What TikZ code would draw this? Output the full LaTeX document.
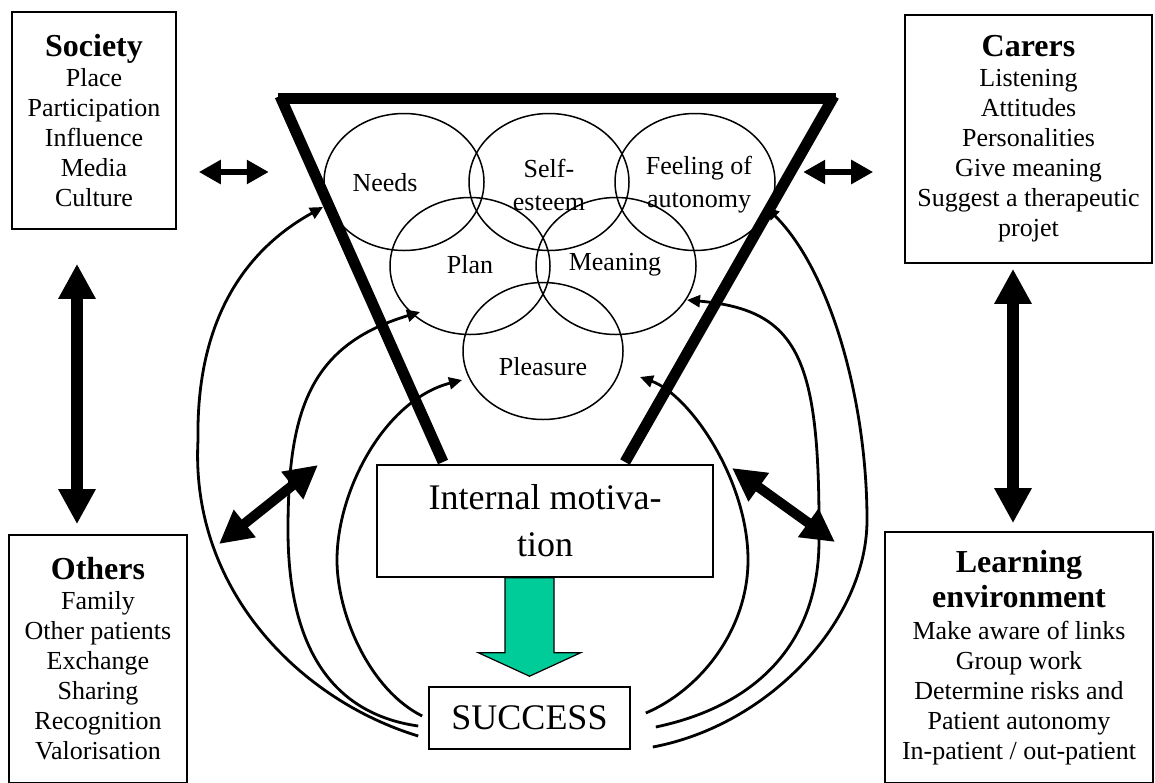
\documentclass[tikz,border=0pt]{standalone}
\usepackage{fontspec}
\setmainfont{Liberation Serif}
\usetikzlibrary{shapes.geometric,arrows.meta,calc}
\definecolor{arrowgreen}{RGB}{0,204,153}
\newcommand\bodysize{\fontsize{26}{30}\selectfont}
\newcommand\headsize{\fontsize{32}{30}\selectfont\bfseries}
\newcommand\bigsize{\fontsize{36}{47}\selectfont}

\begin{document}
\begin{tikzpicture}[x=1pt,y=-1pt,
  infobox/.style={draw, line width=1.6pt, inner sep=0pt, align=center, font=\bodysize},
  ring/.style={draw, ellipse, line width=1.5pt, minimum width=160pt, minimum height=137pt, inner sep=0pt},
  ringtext/.style={font=\bodysize, align=center, inner sep=0pt},
  feedback/.style={line width=2.8pt, -{Triangle[length=13pt,width=12pt]}},
  fatlink/.style={line width=10pt, {Triangle[length=33pt,width=33pt]}-{Triangle[length=33pt,width=33pt]}},
  tallink/.style={line width=12pt, {Triangle[length=35pt,width=35pt]}-{Triangle[length=35pt,width=35pt]}},
  smalllink/.style={line width=6pt, {Triangle[length=22pt,width=23pt]}-{Triangle[length=22pt,width=23pt]}},
  funnelside/.style={line width=11pt},
]
\useasboundingbox (0,0) rectangle (1155,782);

% overlapping rings of the funnel
\node[ring] (needs)    at (404,182) {};
\node[ring] (selfe)    at (549,182) {};
\node[ring] (feel)     at (695,182) {};
\node[ring] (plan)     at (470,266) {};
\node[ring] (meaning)  at (616,266) {};
\node[ring] (pleasure) at (543,351) {};

\node[ringtext] (needsT)    at (385,183) {Needs};
\node[ringtext] (selfeT)    at (549,185) {Self-\\[3pt]esteem};
\node[ringtext] (feelT)     at (699,185) {Feeling of\\[3pt]autonomy};
\node[ringtext] (planT)     at (470,265) {Plan};
\node[ringtext] (meaningT)  at (615,265) {Meaning};
\node[ringtext] (pleasureT) at (543,367) {Pleasure};

% central boxes
\node[draw, line width=1.6pt, inner sep=0pt, align=center, font=\bigsize,
      minimum width=336pt, minimum height=112pt] (imot) at (545,521) {Internal motiva-\\tion};
\node[draw, line width=1.6pt, inner sep=0pt, font=\bigsize,
      minimum width=201pt, minimum height=62pt] (success) at (529.5,718) {SUCCESS};

% outer boxes
\node[infobox, minimum width=164pt, minimum height=217pt] (society) at (94,120.5)
  {{\headsize Society}\\Place\\Participation\\Influence\\Media\\Culture};
\node[infobox, minimum width=247pt, minimum height=248pt] (carers) at (1028.5,139)
  {{\headsize Carers}\\Listening\\Attitudes\\Personalities\\Give meaning\\Suggest a therapeutic\\projet};
\node[infobox, minimum width=178pt, minimum height=248pt] (others) at (98,659)
  {{\headsize Others}\\Family\\Other patients\\Exchange\\Sharing\\Recognition\\Valorisation};
\node[infobox, minimum width=268pt, minimum height=251pt] (learning) at (1019,657.5)
  {{\headsize Learning}\\[5pt]{\headsize environment}\\[2pt]Make aware of links\\Group work\\Determine risks and\\Patient autonomy\\In-patient / out-patient};

% end points of the feedback curves
\coordinate (sL1) at ([shift={(-10,18)}]success.west);
\coordinate (sL2) at ([shift={(-10,8)}]success.west);
\coordinate (sL3) at ([shift={(-6,-2)}]success.west);
\coordinate (sR1) at ([shift={(15,-5)}]success.east);
\coordinate (sR2) at ([shift={(25,9)}]success.east);
\coordinate (sR3) at ([shift={(22,29)}]success.east);
\coordinate (eL1) at ([shift={(-81,25)}]needs.center);
\coordinate (eL2) at ([shift={(-50,46)}]plan.center);
\coordinate (eL3) at ([shift={(-81,29)}]pleasure.center);
\coordinate (eR1) at ([shift={(97,26)}]pleasure.center);
\coordinate (eR2) at ([shift={(71,34)}]meaning.center);
\coordinate (eR3) at ([shift={(71,25)}]feel.center);

% feedback curves from success back into the funnel
\draw[feedback] (sL1) .. controls (300,700) and (190,590) .. (198,440)
                      .. controls (196,320) and (245,250) .. (eL1);
\draw[feedback] (sL2) .. controls (320,712) and (288,630) .. (288,530)
                      .. controls (288,410) and (310,345) .. (eL2);
\draw[feedback] (sL3) .. controls (370,690) and (337,615) .. (337,560)
                      .. controls (337,490) and (385,400) .. (eL3);
\draw[feedback] (sR1) .. controls (700,690) and (748,630) .. (748,560)
                      .. controls (748,480) and (690,395) .. (eR1);
\draw[feedback] (sR2) .. controls (760,705) and (819,640) .. (819,540)
                      .. controls (820,360) and (800,310) .. (eR2);
\draw[feedback] (sR3) .. controls (770,725) and (867,620) .. (867,520)
                      .. controls (867,400) and (830,270) .. (eR3);

% the funnel
\draw[funnelside] (278,98) -- (836,98);
\draw[funnelside] (280,96) -- (443,462);
\draw[funnelside] (834,96) -- (625,462);

% green arrow from motivation to success
\draw[line width=1.2pt, fill=arrowgreen, line join=miter]
  ($(imot.south -| success.north)+(-24.5,0)$) -- ++(0,75) -- ++(-26.5,0)
  -- ($(success.north)+(0,-10)$)
  -- ($(imot.south -| success.north)+(51,75)$) -- ++(-26.5,0) -- ++(0,-75) -- cycle;

% links between the surroundings and the funnel
\coordinate (sa1) at ([shift={(22,51.5)}]society.east);
\coordinate (sa2) at ([shift={(92,51.5)}]society.east);
\draw[smalllink] (sa1) -- (sa2);
\coordinate (ca1) at ([shift={(-101,33)}]carers.west);
\coordinate (ca2) at ([shift={(-31,33)}]carers.west);
\draw[smalllink] (ca1) -- (ca2);

\coordinate (lvx) at (77,0);
\draw[tallink, shorten <=34pt, shorten >=10pt] (society.south -| lvx) -- (others.north -| lvx);
\coordinate (rvx) at (1013,0);
\draw[tallink, shorten <=5pt, shorten >=8pt] (carers.south -| rvx) -- (learning.north -| rvx);

\coordinate (od1) at (219,544);
\coordinate (od2) at (318,465);
\draw[fatlink] (od1) -- (od2);
\coordinate (ld1) at (732,468);
\coordinate (ld2) at (835,542);
\draw[fatlink] (ld1) -- (ld2);
\end{tikzpicture}
\end{document}
